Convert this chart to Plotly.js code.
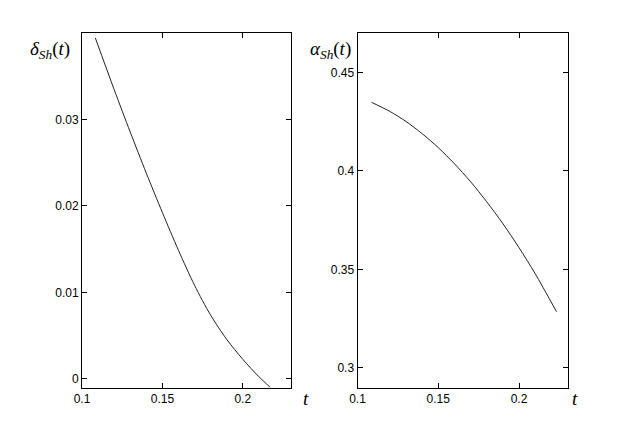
<!DOCTYPE html>
<html>
<head>
<meta charset="utf-8">
<script src="https://cdn.plot.ly/plotly-3.0.1.min.js"></script>
<style>html,body{margin:0;padding:0;background:#fff;}#chart{width:627px;height:436px;}</style>
</head>
<body>
<div id="chart"></div>
<script>
// Left panel: delta_Sh(t)
const tDelta = [0.1083, 0.12, 0.13, 0.14, 0.15, 0.16, 0.17, 0.18, 0.19, 0.20, 0.21, 0.2172];
const delta  = [0.03943, 0.03346, 0.02854, 0.02379, 0.01924, 0.01487, 0.01082, 0.00737, 0.00457, 0.00227, 0.00025, -0.0010];
// Right panel: alpha_Sh(t)
const tAlpha = [0.1087, 0.12, 0.13, 0.14, 0.15, 0.16, 0.17, 0.18, 0.19, 0.20, 0.21, 0.2232];
const alpha  = [0.4348, 0.4302, 0.4251, 0.4189, 0.4118, 0.4036, 0.3945, 0.3843, 0.3732, 0.3610, 0.3478, 0.3285];

const xTicks = [0.1, 0.15, 0.2];
const xTickText = ['0.1', '0.15', '0.2'];
const yTicksL = [0, 0.01, 0.02, 0.03];
const yTickTextL = ['0', '0.01', '0.02', '0.03'];
const yTicksR = [0.3, 0.35, 0.4, 0.45];
const yTickTextR = ['0.3', '0.35', '0.4', '0.45'];

const W = 627, H = 436;
const px = v => v / W, py = v => 1 - v / H;

const traces = [
  {x: tDelta, y: delta, xaxis: 'x', yaxis: 'y', mode: 'lines', line: {color: '#222', width: 1, shape: 'spline', smoothing: 0.8}, hoverinfo: 'skip', cliponaxis: true},
  {x: tAlpha, y: alpha, xaxis: 'x2', yaxis: 'y2', mode: 'lines', line: {color: '#222', width: 1, shape: 'spline', smoothing: 0.8}, hoverinfo: 'skip'}
];

const axisBase = {
  showgrid: false, zeroline: false, showline: true, linecolor: '#000', linewidth: 1,
  mirror: 'ticks', ticks: 'inside', ticklen: 5, tickwidth: 1, tickcolor: '#000',
  tickfont: {family: 'Liberation Sans, Arial, sans-serif', size: 12, color: '#000'}
};
const yDom = [1 - 387.5 / H, 1 - 33 / H];

const serif = {family: 'Liberation Serif, Times New Roman, serif', size: 19, color: '#000'};

const layout = {
  width: W, height: H,
  margin: {l: 0, r: 0, t: 0, b: 0},
  paper_bgcolor: '#fff', plot_bgcolor: '#fff',
  showlegend: false,
  xaxis: Object.assign({}, axisBase, {domain: [82 / W, 291 / W], range: [0.1, 0.23], tickvals: xTicks, ticktext: xTickText, anchor: 'y'}),
  yaxis: Object.assign({}, axisBase, {domain: yDom, range: [-0.001, 0.04], tickvals: yTicksL, ticktext: yTickTextL, anchor: 'x'}),
  xaxis2: Object.assign({}, axisBase, {domain: [357.5 / W, 567.5 / W], range: [0.1, 0.23], tickvals: xTicks, ticktext: xTickText, anchor: 'y2'}),
  yaxis2: Object.assign({}, axisBase, {domain: yDom, range: [0.29, 0.47], tickvals: yTicksR, ticktext: yTickTextR, anchor: 'x2'}),
  annotations: [
    {xref: 'paper', yref: 'paper', x: px(50), y: py(50), text: '<i>δ</i><sub><i>Sh</i></sub>(<i>t</i>)', showarrow: false, font: serif, xanchor: 'center', yanchor: 'middle'},
    {xref: 'paper', yref: 'paper', x: px(330), y: py(50), text: '<i>α</i><sub><i>Sh</i></sub>(<i>t</i>)', showarrow: false, font: serif, xanchor: 'center', yanchor: 'middle'},
    {xref: 'paper', yref: 'paper', x: px(306), y: py(398), text: '<i>t</i>', showarrow: false, font: serif, xanchor: 'center', yanchor: 'middle'},
    {xref: 'paper', yref: 'paper', x: px(575), y: py(398), text: '<i>t</i>', showarrow: false, font: serif, xanchor: 'center', yanchor: 'middle'}
  ]
};

Plotly.newPlot('chart', traces, layout, {staticPlot: true, displayModeBar: false});
</script>
</body>
</html>
